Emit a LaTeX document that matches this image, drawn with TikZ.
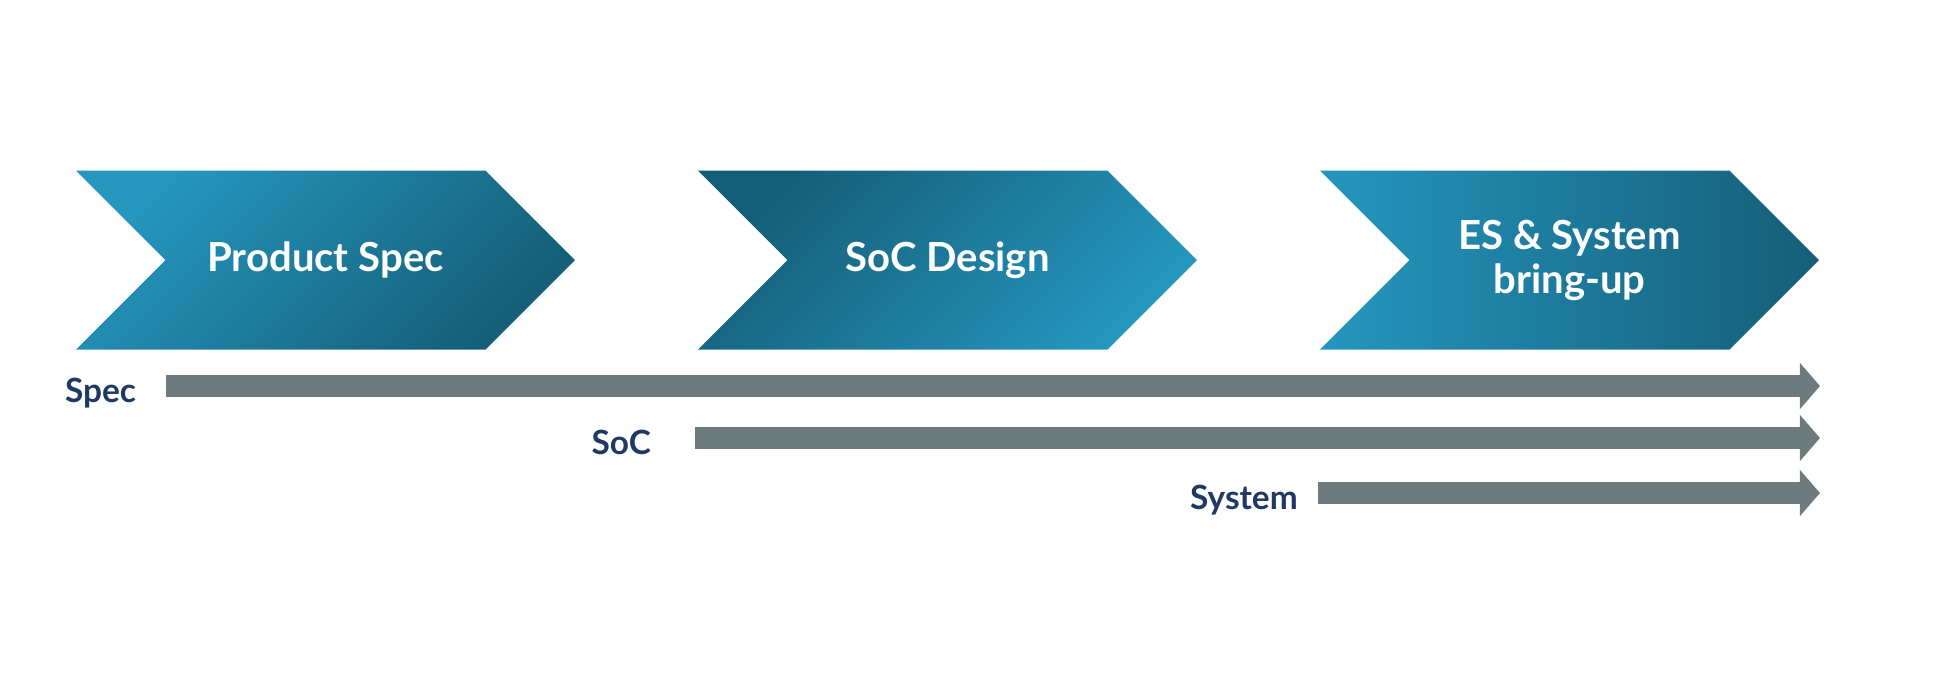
\documentclass[tikz,border=0pt]{standalone}
\usepackage{fontspec}
\setmainfont{Lato}
\usetikzlibrary{positioning,shapes.symbols,arrows.meta}
\definecolor{teallight}{RGB}{37,150,190}
\definecolor{tealdark}{RGB}{21,94,120}
\definecolor{bargray}{RGB}{109,123,125}
\definecolor{labelnavy}{RGB}{31,56,100}

\begin{document}
\begin{tikzpicture}[node distance=2.105cm,
    phase/.style={signal, signal to=east, signal from=west, signal pointer angle=90,
        minimum width=4.99cm, minimum height=1.79cm, inner sep=0pt, text=white, align=center,
        font=\bfseries\fontsize{11.4}{12.5}\selectfont},
    lbl/.style={inner sep=0pt, text height=2.4mm, text depth=0pt, text=labelnavy,
        font=\bfseries\fontsize{9.5}{11}\selectfont},
    bar/.style={draw=bargray, line width=2.2mm, -{Triangle[length=2mm, width=4.5mm]}}]
        \useasboundingbox (0,0) rectangle (19.52,6.74);

        % phases
        \node (prod) [phase, top color=teallight, bottom color=tealdark, shading angle=45] at (3.255,4.14) {Product Spec};
        \node (soc) [phase, right=of prod, top color=tealdark, bottom color=teallight, shading angle=45] {SoC Design};
        \node (bring) [phase, right=of soc, left color=teallight, right color=tealdark] {ES \& System\\bring-up};

        % timelines
        \coordinate (specstart) at (1.656,2.88);
        \coordinate (socstart) at (6.947,2.36);
        \coordinate (sysstart) at (13.184,1.81);

        \node (speclbl) [lbl, left=2.9mm of specstart, yshift=-0.4mm] {Spec};
        \node (soclbl) [lbl, left=4.3mm of socstart, yshift=-0.4mm] {SoC};
        \node (syslbl) [lbl, left=2mm of sysstart, yshift=-0.4mm] {System};

        \draw[bar] (specstart) -- (bring.east |- specstart);
        \draw[bar] (socstart) -- (bring.east |- socstart);
        \draw[bar] (sysstart) -- (bring.east |- sysstart);
    \end{tikzpicture}
\end{document}
